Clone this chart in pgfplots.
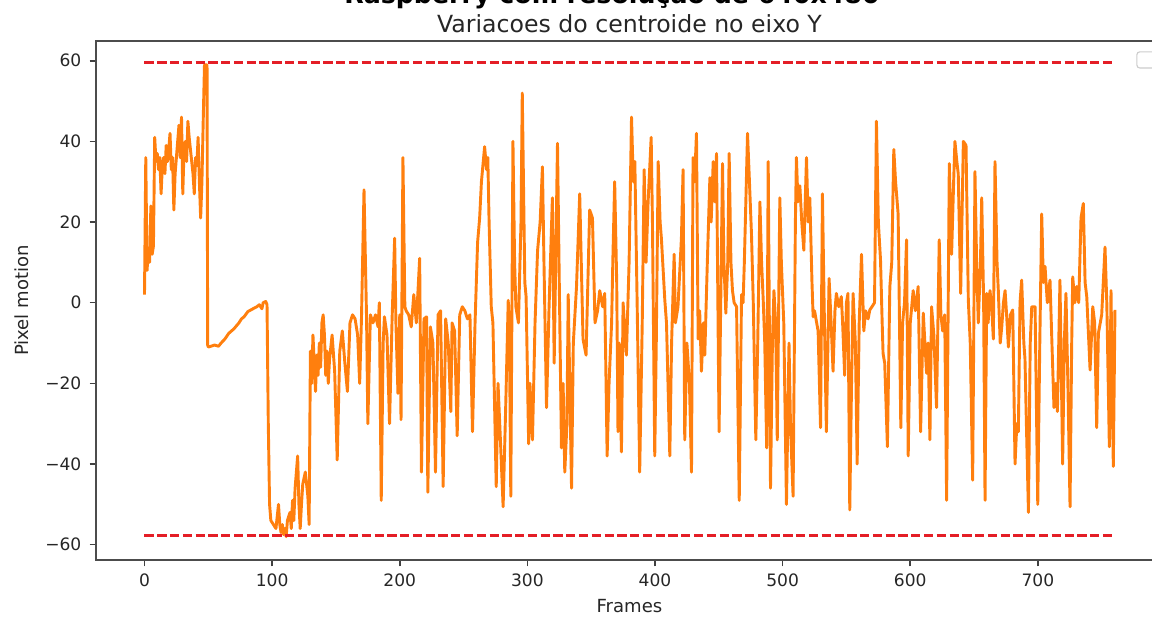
\documentclass[border=0pt]{standalone}
\usepackage{fontspec}
\setmainfont{DejaVu Sans}
\usepackage{pgfplots}
\pgfplotsset{compat=1.18}
\usetikzlibrary{calc}
\definecolor{mplorange}{HTML}{FF7F0E}
\definecolor{mplred}{HTML}{E41E26}

\begin{document}
\begin{tikzpicture}
\begin{axis}[
  scale only axis,
  width=768.2pt, height=373.7pt,
  xmin=-38, xmax=798, ymin=-63.8, ymax=64.9,
  xtick={0,100,...,700},
  ytick={-60,-40,...,60},
  yticklabels={−60,−40,−20,0,20,40,60},
  tick align=outside, tick pos=left,
  major tick length=4.5pt,
  every tick/.style={black!75, line width=1.1pt},
  axis line style={black!70, line width=1.3pt},
  /pgf/number format/assume math mode=true,
  ticklabel style={font=\fontsize{12.3}{14}\selectfont, black!85},
  yticklabel style={xshift=-2.5pt},
  xticklabel style={yshift=-2pt},
  xlabel={Frames}, ylabel={Pixel motion},
  label style={font=\fontsize{13}{15}\selectfont, black!85},
  xlabel style={at={(rel axis cs:0.5,-0.101)}, anchor=base},
  ylabel style={at={(rel axis cs:-0.0628,0.5)}, anchor=base},
  title={Variacoes do centroide no eixo Y},
  every axis title shift=0pt,
  title style={at={(rel axis cs:0.5,1)}, anchor=base, yshift=5.8pt,
    font=\fontsize{17}{20}\selectfont, black!85},
  clip=false,
]
% centroid motion along Y
\addplot[mplorange, line width=2.1pt, line join=round] coordinates {
(0,2) (1,36) (2,8) (3,13) (4,10) (5,24) (6,12) (7,14) (8,41) (9,35) (10,37)
(11,33) (12,36) (13,27) (14,34) (15,36) (16,32) (17,39) (18,35) (19,38) (20,42)
(21,33) (22,36) (23,23) (24,32) (25,36) (26,40) (27,44) (28,36) (29,46) (30,27)
(31,38) (32,40) (33,35) (34,45) (35,41) (36,38) (37,35) (38,32) (39,27) (40,36)
(41,34) (42,41) (43,30) (44,21) (45,30) (46,45) (47,59) (48,59) (49,59)
(49.5,-10.5) (50,-11) (55,-10.5) (58,-10.8) (60,-10) (63,-9) (66,-7.6) (70,-6.5)
(74,-5) (76,-4) (78,-3.5) (81,-2.2) (85,-1.5) (88,-1) (90,-0.5) (92,-1.5) (93,0)
(95,0.3) (96,-0.5)
(97,-30) (98,-50) (99,-54) (101,-55) (103,-56) (104,-53) (105,-50) (106,-55)
(107,-57) (108,-55) (109,-57.5) (110,-56) (111,-58) (112,-54) (114,-52) (115,-56)
(116,-49) (117,-54) (118,-46) (120,-38) (121,-50) (122,-56) (123,-50) (124,-45)
(126,-42) (128,-48) (129,-55) (130,-12) (131,-20) (132,-8) (133,-15) (134,-22)
(135,-13) (136,-18) (137,-10) (138,-16) (139,-5) (140,-3) (141,-8) (142,-18)
(143,-12) (144,-20)
(145,-14) (147,-8) (149,-17) (151,-39) (153,-12) (155,-7) (157,-15) (159,-22)
(161,-5) (163,-3) (165,-4) (167,-8) (168.6,-20) (170,-4) (172,28) (174,-4)
(175,-30) (177,-3) (179,-5) (181,-3) (183,-6) (184,0) (185.5,-49) (187,-10)
(188,-3.5) (190,-8) (192,-30) (194,-4) (196,16) (197,-5) (198.6,-22.5) (200,-3)
(201,-29) (202.5,36) (204,-1) (205,-2) (207,-3) (209,-6) (211,2) (213,-5)
(215.6,11) (217,-42) (219,-4) (221,-3.5) (222,-47) (224,-6) (226,-10) (228,-42)
(230,-3) (232,-2) (234,-45.6) (236,-4) (238,-10) (240,-27) (241,-5) (243,-7)
(245,-33) (247,-3) (249,-1) (251,-2) (253,-4) (255,-3) (257,-32) (259,-5)
(261,15) (262.6,21) (264,30) (266.5,38.7) (268,33) (269,36) (270,20) (271.7,-1)
(273,-5) (275.6,-45.6) (277,-20) (279,-35) (281,-50.6) (283,-26) (285,0.6)
(286,-10) (287,-48) (288.7,40) (290,10) (291,-1) (293,-5) (295,20) (296,52)
(298,5) (299,1.5) (301,-35) (302,-20) (304,-34) (306,-5) (308,13) (310,20)
(311.8,33.7) (313,10) (315,-26) (317,-1) (319.6,26) (321,-15) (323.6,39.5)
(325,5) (326.7,-36) (328,-20) (329.3,-42) (331,-30) (332,2) (334.6,-46) (336,-10)
(338.5,4)
(341,27) (343.6,-9) (346,-13) (348.8,23) (351,21) (353,-5) (355,-2) (356.7,3)
(359,-1) (360.6,2.3) (362.5,-38) (364,-20) (366,-5) (367,11) (368.4,30) (370,5)
(371,-32) (372,-10) (373.7,-37) (375,0) (377.6,-13) (379.7,10) (381.6,46)
(383,30) (384.2,35) (386,0) (388,-42) (390,-5) (391.5,33) (393,10) (394.6,25)
(397,41) (398,20) (399.8,-38) (401,-10) (402.5,35) (404,20) (405,16) (407.7,0.6)
(409,-5) (411.6,-38) (413,-10) (415,12) (416,-5) (418,-1) (420.7,16) (422,33)
(423.3,-34) (425,-10) (427,-20) (428.6,-42) (429.8,36) (431,30) (432.5,42)
(433.8,-9) (435,-2) (436.4,-17) (438,-5) (439,-13) (441,10) (443,31) (444,20)
(445.6,35) (447,25) (448.2,37) (450.2,-32) (452.9,34.5) (454,10) (455.5,-2.6)
(457,10) (458.1,37) (459.5,10) (460.7,3) (462,0) (463.9,-1) (466,-49) (467.8,2)
(469,0) (470,10) (472.5,42) (474,30) (475.6,17) (477,0) (479,-34) (480.5,-10)
(482.2,25) (483.5,10) (484.8,0.6) (486,-10) (487.5,-36) (488.7,35) (490.5,-46)
(492,-10) (493.2,3) (494.5,-5) (495.8,-34) (497.8,26) (499,10) (500.9,-5)
(503,-50) (505,-10) (506.2,-31) (508.2,-48) (510,20) (510.8,36) (512,25)
(513.5,29) (515,20) (516.6,13) (518.7,36) (520,20) (521.3,26) (523,5)
(523.9,-3.5) (525,-2) (527.8,-7) (529.7,-31) (531.2,27) (532.5,0) (534.3,-32)
(536.4,6) (538,-5) (539.5,-17) (541,-2) (542.1,2.3) (544,-1) (546,1.5) (547,-5)
(548.6,-18) (550,0) (551.2,2.3)
(552.6,-51.4) (554,-20) (555.2,2.3) (557,-10) (558.4,-40) (560,-5) (561.8,12)
(563.6,-7) (565,-2) (567,-4) (568.3,-1.8) (570,-1) (572,0) (573.5,45) (575,20)
(576.7,10.6) (578,-5) (578.7,-12.6) (580,-15) (582.1,-35.7) (584,3.9) (585.5,10)
(587.1,38) (588.5,30) (590.5,22) (592.6,-31) (594,-5) (595.5,0) (597.1,15.6)
(598.4,-38) (600,-5) (602.3,3) (604,-2) (606.2,4) (608.1,-32) (610.2,-2.6)
(612.8,-17.5) (614,-10) (615.4,-34) (616.7,-1) (618.5,-8) (620.6,-26)
(622.7,15.6) (624,-3) (625.4,-7) (627,-3) (628.5,-49) (630.6,34.5) (632.4,12)
(634,30) (635,40) (636.5,35) (637.6,32) (639.5,2.3) (641.6,40) (643.7,39)
(645.5,0.6) (647,-10) (648.9,-44) (650.7,32.5) (652,10) (653.3,-5) (655,10)
(656,26) (657.5,0) (658.6,-49) (659.9,2.3) (661,-5) (662.5,3) (664,-2)
(665.1,-9) (666.4,35) (668,10) (669,3) (670.5,-10) (671.7,-6) (673,0) (674.3,3)
(675.5,-3) (676.9,-11) (678.5,-3) (680.3,-1.8) (682.1,-40) (683.5,-30)
(684.7,-32) (686,0) (687.3,5.6) (689,-10) (689.9,-14) (691,-30) (692.6,-52)
(694,-10) (695.2,-1) (697.8,-1) (699.9,-50) (701.5,-10) (703,22) (704.3,5)
(705.6,9) (707.4,0) (709.5,5.6) (711,-10) (712.6,-26) (714,-20) (715.3,-27)
(717.3,5.6) (719.4,-40) (720.7,-10) (722,2.3) (723.5,-20) (725.2,-50.6)
(726.5,-10) (727.3,6.4) (729,0) (730.4,4) (732,0) (733.8,21) (735.6,24.6)
(737,5) (738.3,1.5) (740.9,-16.7) (743,-1) (744.5,-5) (746.1,-31) (747.4,-7.6)
(750,-3) (752.6,13.8) (754,0) (756,-35.7) (757.3,3) (759.1,-40.6) (760.4,-1.8)
};
% limits
\addplot[mplred, line width=2pt, dash pattern=on 6.7pt off 2.5pt] coordinates {(0,59.5) (760,59.5)};
\addplot[mplred, line width=2pt, dash pattern=on 6.7pt off 2.5pt] coordinates {(0,-57.8) (760,-57.8)};
% empty legend frame
\draw[black!20, fill=white, rounded corners=2pt, line width=0.8pt]
  (rel axis cs:0.9756,0.948) rectangle (rel axis cs:0.998,0.979);
\coordinate (SW) at (rel axis cs:0,0);
\node[anchor=base, font=\fontsize{18.2}{21}\selectfont\bfseries]
  at ($(SW)+(371.5pt,400.7pt)$) {Raspberry com resolução de 640x480};
\end{axis}
\pgfresetboundingbox
\useasboundingbox ($(SW)+(-69.12pt,-41.04pt)$) rectangle ($(SW)+(760.32pt,403.2pt)$);
\end{tikzpicture}
\end{document}
